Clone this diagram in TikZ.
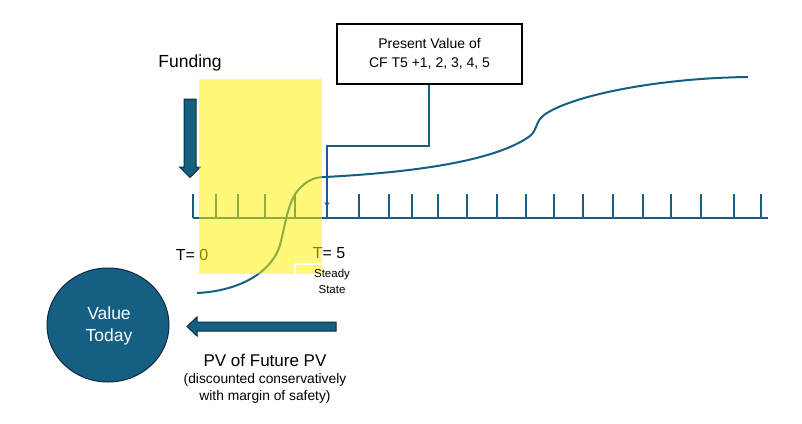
\documentclass[tikz,border=0pt]{standalone}
\usepackage{fontspec}
\setmainfont{Liberation Sans}
\usetikzlibrary{arrows.meta,shapes.geometric}
\definecolor{tealblue}{HTML}{156082}
\definecolor{darknavy}{HTML}{0E2841}
\tikzset{
  axisline/.style={draw=tealblue, line width=2.4pt},
  tickline/.style={draw=tealblue, line width=2pt},
  curveline/.style={draw=tealblue, line width=2pt},
  bigarrow/.style={fill=tealblue, draw=darknavy, line width=1pt, line join=miter},
  lbl/.style={inner sep=0pt, text=black},
}
\begin{document}
\begin{tikzpicture}[x=1pt,y=-1pt]
\useasboundingbox (0,0) rectangle (802,423);
\fill[white] (0,0) rectangle (802,423);

% axis and ticks
\coordinate (axL) at (193,218);
\coordinate (axR) at (768,218);
\draw[axisline] (axL) -- (axR);
\foreach \x in {193,216,238,265,295,327,359,389,412,438,467,497,526,554,583,613,643,671,701,734,761}
  \draw[tickline] (\x,194) -- (\x,218);

% value curve
\draw[curveline] (197,293) .. controls (240,291) and (272,272) .. (280,245)
  .. controls (286,222) and (288,200) .. (300,188)
  .. controls (308,180) and (315,177) .. (325,177)
  .. controls (420,172) and (497,160) .. (530,136)
  .. controls (538,129) and (535,122) .. (544,115)
  .. controls (572,95) and (660,78) .. (748,77);

% time labels
\node[lbl, font=\fontsize{16}{18}\selectfont] (t0) at (192,255) {T= 0};
\node[lbl, font=\fontsize{16}{18}\selectfont] (t5) at (329,253) {T= 5};

% funding arrow
\node[lbl, font=\fontsize{17.5}{20}\selectfont] (funding) at (190,63) {Funding};
\draw[bigarrow] (184,99) -- (196,99) -- (196,167) -- (200.5,167) -- (190,177.5) -- (179.5,167) -- (184,167) -- cycle;

% yellow highlight (semi-transparent)
\fill[yellow, opacity=0.52] (199,79) rectangle (322,274);

% steady state box
\draw[white, line width=1.2pt] (295,300) -- (295,264) -- (370,264);
\node[lbl, font=\fontsize{11.5}{13}\selectfont] (steady) at (332,274.5) {Steady};
\node[lbl, font=\fontsize{11.5}{13}\selectfont] (state) at (332,289.5) {State};

% present value box and connector
\node[draw=black, line width=1.6pt, minimum width=185pt, minimum height=60pt, inner sep=0pt,
      align=center, font=\fontsize{14}{19}\selectfont] (pvbox) at (429.5,54)
      {Present Value of\\CF T5 +1, 2, 3, 4, 5};
\coordinate (pvend) at (327,207);
\draw[tealblue, line width=1.5pt, -{Stealth[length=5pt,width=5pt]}]
  (pvbox.south -| 429,0) -- (429,146) -- (327,146) -- (pvend);

% value today
\node[ellipse, fill=tealblue, draw=darknavy, line width=1pt, minimum width=122pt, minimum height=114pt,
      inner sep=0pt] (today) at (108,325) {};
\node[lbl, text=white, font=\fontsize{17.5}{22}\selectfont, align=center] (todaytxt) at (109,326)
      {Value\\Today};

% pv arrow
\draw[bigarrow] (336,322) -- (197,322) -- (197,317) -- (187,326.5) -- (197,336) -- (197,331) -- (336,331) -- cycle;

\node[lbl, font=\fontsize{17}{20}\selectfont] (pvfut) at (265,360) {PV of Future PV};
\node[lbl, font=\fontsize{13.8}{17}\selectfont, align=center] (disc) at (265,388.5)
  {(discounted conservatively\\with margin of safety)};
\end{tikzpicture}
\end{document}
